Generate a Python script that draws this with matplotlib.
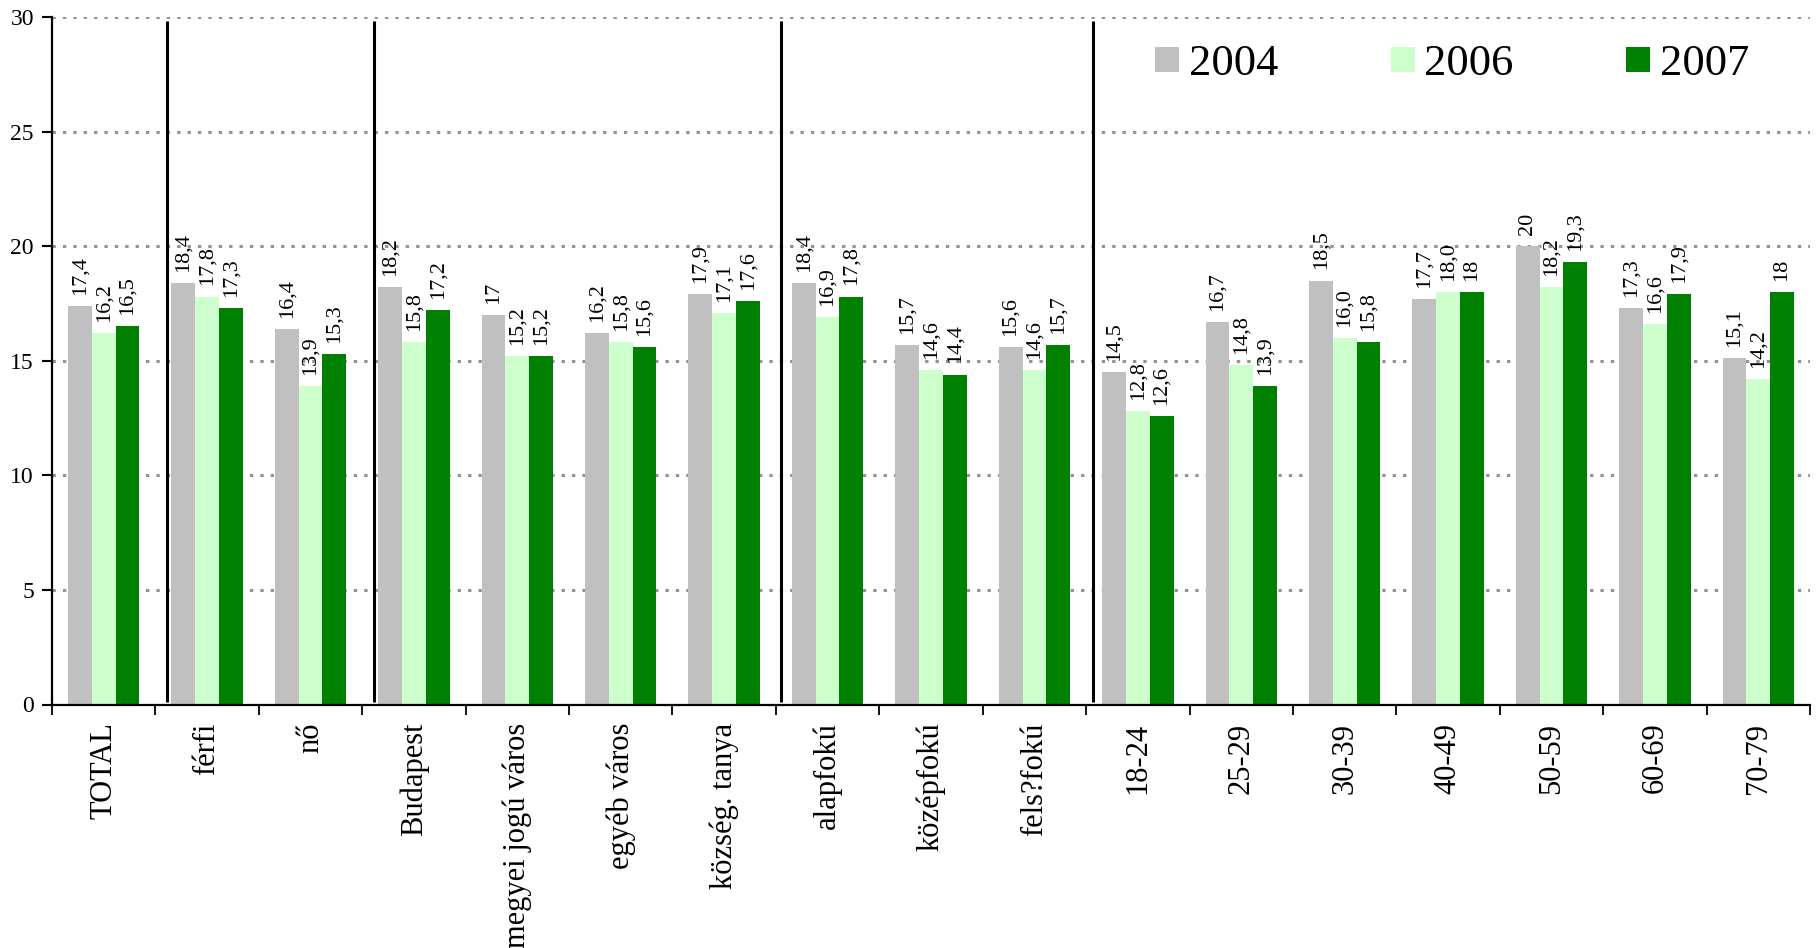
import matplotlib
matplotlib.use("Agg")
import matplotlib.pyplot as plt
import numpy as np

plt.rcParams['font.family'] = ['Liberation Serif', 'DejaVu Serif']

categories = ["TOTAL", "férfi", "nő", "Budapest", "megyei jogú város", "egyéb város",
              "község. tanya", "alapfokú", "középfokú", "fels?fokú", "18-24", "25-29",
              "30-39", "40-49", "50-59", "60-69", "70-79"]
series_names = ["2004", "2006", "2007"]
labels_2004 = ["17,4", "18,4", "16,4", "18,2", "17", "16,2", "17,9", "18,4", "15,7", "15,6",
               "14,5", "16,7", "18,5", "17,7", "20", "17,3", "15,1"]
labels_2006 = ["16,2", "17,8", "13,9", "15,8", "15,2", "15,8", "17,1", "16,9", "14,6", "14,6",
               "12,8", "14,8", "16,0", "18,0", "18,2", "16,6", "14,2"]
labels_2007 = ["16,5", "17,3", "15,3", "17,2", "15,2", "15,6", "17,6", "17,8", "14,4", "15,7",
               "12,6", "13,9", "15,8", "18", "19,3", "17,9", "18"]
colors = ["#C0C0C0", "#CCFFCC", "#008000"]
# group separators: after these category indices (plus small visual offset)
sep_after = [0, 2, 6, 9]
sep_offset = [0.108, 0.117, 0.045, 0.063]

all_labels = [labels_2004, labels_2006, labels_2007]
all_values = [[float(s.replace(',', '.')) for s in lab] for lab in all_labels]

fig = plt.figure(figsize=(18.16, 9.48), dpi=100)
ax = fig.add_axes([52/1816, 1-704.5/948, (1810-52)/1816, (704.5-17)/948])

x = np.arange(len(categories))
w = 0.23
for k, (vals, labs, col, name) in enumerate(zip(all_values, all_labels, colors, series_names)):
    xs = x + (k-1)*w
    ax.bar(xs, vals, width=w, color=col, edgecolor='none', label=name, zorder=2)
    for xi, v, s in zip(xs, vals, labs):
        ax.annotate(s, (xi, v), xytext=(0, 8), textcoords='offset points',
                    rotation=90, ha='center', va='bottom', fontsize=16, zorder=4)

for i, off in zip(sep_after, sep_offset):
    ax.vlines(i + 0.5 + off, 0.12, 29.84, color='black', lw=2.2, zorder=3)

ax.set_xlim(-0.5, len(categories)-0.5)
ax.set_ylim(0, 30)
ax.set_yticks(np.arange(0, 31, 5))
ax.yaxis.grid(True, color='#939393', lw=2.2, linestyle=(0, (1.1, 2.3)))
ax.set_axisbelow(True)

ax.set_xticks(np.arange(-0.5, len(categories), 1.0))
ax.set_xticklabels([])
ax.set_xticks(x, minor=True)
ax.set_xticklabels(categories, minor=True, rotation=90, fontsize=22)
ax.tick_params(axis='x', which='major', direction='out', length=7.2, width=1.3, color='black')
ax.tick_params(axis='x', which='minor', length=0, pad=13)
ax.tick_params(axis='y', direction='out', length=7, width=1.5, labelsize=17, pad=6)

for sp in ['top', 'right']:
    ax.spines[sp].set_visible(False)
ax.spines['left'].set_linewidth(1.6)
ax.spines['bottom'].set_linewidth(1.6)

leg = ax.legend(loc='center left', bbox_to_anchor=((1155-52)/1758, 1-(64-17)/687.5),
                ncol=3, frameon=False, fontsize=32, handlelength=0.54, handleheight=0.5,
                handletextpad=0.22, columnspacing=2.53, borderpad=0, borderaxespad=0)

fig.savefig("out.png", dpi=100)
